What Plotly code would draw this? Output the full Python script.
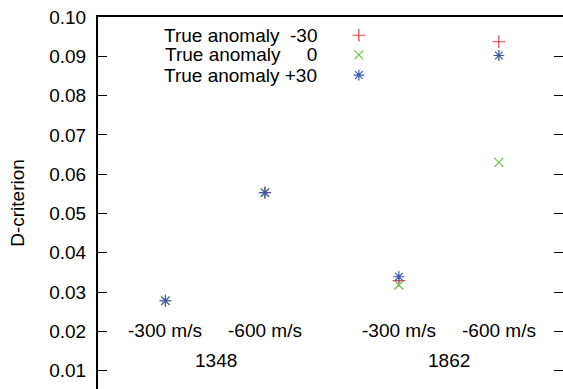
import plotly.graph_objects as go

# ---- data ----
categories = ["1348 -300 m/s", "1348 -600 m/s", "1862 -300 m/s", "1862 -600 m/s"]
speed_labels = ["-300 m/s", "-600 m/s", "-300 m/s", "-600 m/s"]
group_labels = ["1348", "1862"]
series_names = ["True anomaly \u00a0-30", "True anomaly \u00a0\u00a0\u00a0\u00a00", "True anomaly +30"]
d_minus30 = [0.0278, 0.0553, 0.0329, 0.0937]
d_zero = [0.0278, 0.0553, 0.0318, 0.0630]
d_plus30 = [0.0278, 0.0553, 0.0339, 0.0902]
y_ticks = [0.01, 0.02, 0.03, 0.04, 0.05, 0.06, 0.07, 0.08, 0.09, 0.10]
y_tick_text = ["0.01", "0.02", "0.03", "0.04", "0.05", "0.06", "0.07", "0.08", "0.09", "0.10"]

# ---- layout config (positions / styles) ----
x_slot = [0.145, 0.359, 0.647, 0.862]          # horizontal slot of each category (plot fraction)
group_x = [0.254, 0.755]
speed_label_y = 0.0202
group_label_y = 0.0126
symbols = ["cross-thin", "x-thin", "asterisk"]
colors = ["#e8404c", "#6cc24a", "#3a5bb0"]
legend_text_x = 0.475
legend_marker_x = 0.561
legend_row_y = [0.049, 0.102, 0.156]
FONT = "Liberation Sans, Arial, sans-serif"
FS = 19

series = [d_minus30, d_zero, d_plus30]

fig = go.Figure()
for name, vals, sym, col in zip(series_names, series, symbols, colors):
    fig.add_trace(go.Scatter(
        x=x_slot, y=vals, mode="markers", name=name, text=categories,
        marker=dict(symbol=sym, size=9, color=col, line=dict(color=col, width=1.2)),
        showlegend=False,
    ))

# manual key (text left, symbol right, like gnuplot)
for i, (name, sym, col) in enumerate(zip(series_names, symbols, colors)):
    fig.add_trace(go.Scatter(
        x=[legend_marker_x], y=[legend_row_y[i]], mode="markers", xaxis="x2", yaxis="y2",
        marker=dict(symbol=sym, size=9, color=col, line=dict(color=col, width=1.2)),
        showlegend=False, hoverinfo="skip",
    ))
    fig.add_annotation(x=legend_text_x, y=1 - legend_row_y[i], xref="paper", yref="paper",
                       text=name, showarrow=False, xanchor="right", yanchor="middle",
                       font=dict(family=FONT, size=FS, color="black"))

for xs, lab in zip(x_slot, speed_labels):
    fig.add_annotation(x=xs, y=speed_label_y, text=lab, showarrow=False,
                       xanchor="center", yanchor="middle",
                       font=dict(family=FONT, size=FS, color="black"))
for gx, lab in zip(group_x, group_labels):
    fig.add_annotation(x=gx, y=group_label_y, text=lab, showarrow=False,
                       xanchor="center", yanchor="middle",
                       font=dict(family=FONT, size=FS, color="black"))

fig.update_layout(
    width=563, height=389,
    margin=dict(l=98, r=0, t=17, b=0, autoexpand=False),
    paper_bgcolor="white", plot_bgcolor="white",
    font=dict(family=FONT, size=FS, color="black"),
    xaxis=dict(range=[0, 1], showgrid=False, zeroline=False, showticklabels=False,
               ticks="", showline=True, mirror=True, linecolor="black", linewidth=1.5,
               automargin=False),
    yaxis=dict(range=[0.00534, 0.1], tickvals=y_ticks, ticktext=y_tick_text,
               showgrid=False, zeroline=False, ticks="inside", ticklen=9, tickwidth=1.2,
               tickcolor="black", showline=True, mirror="ticks", linecolor="black",
               linewidth=2, ticklabelstandoff=6, automargin=False,
               title=dict(text="D-criterion", standoff=20,
                          font=dict(family=FONT, size=FS, color="black"))),
    xaxis2=dict(range=[0, 1], overlaying="x", visible=False),
    yaxis2=dict(range=[1, 0], overlaying="y", visible=False),
)

fig.write_html("out.html", config={"displayModeBar": False},
               post_script="document.body.style.margin='0';document.body.style.overflow='hidden';")
